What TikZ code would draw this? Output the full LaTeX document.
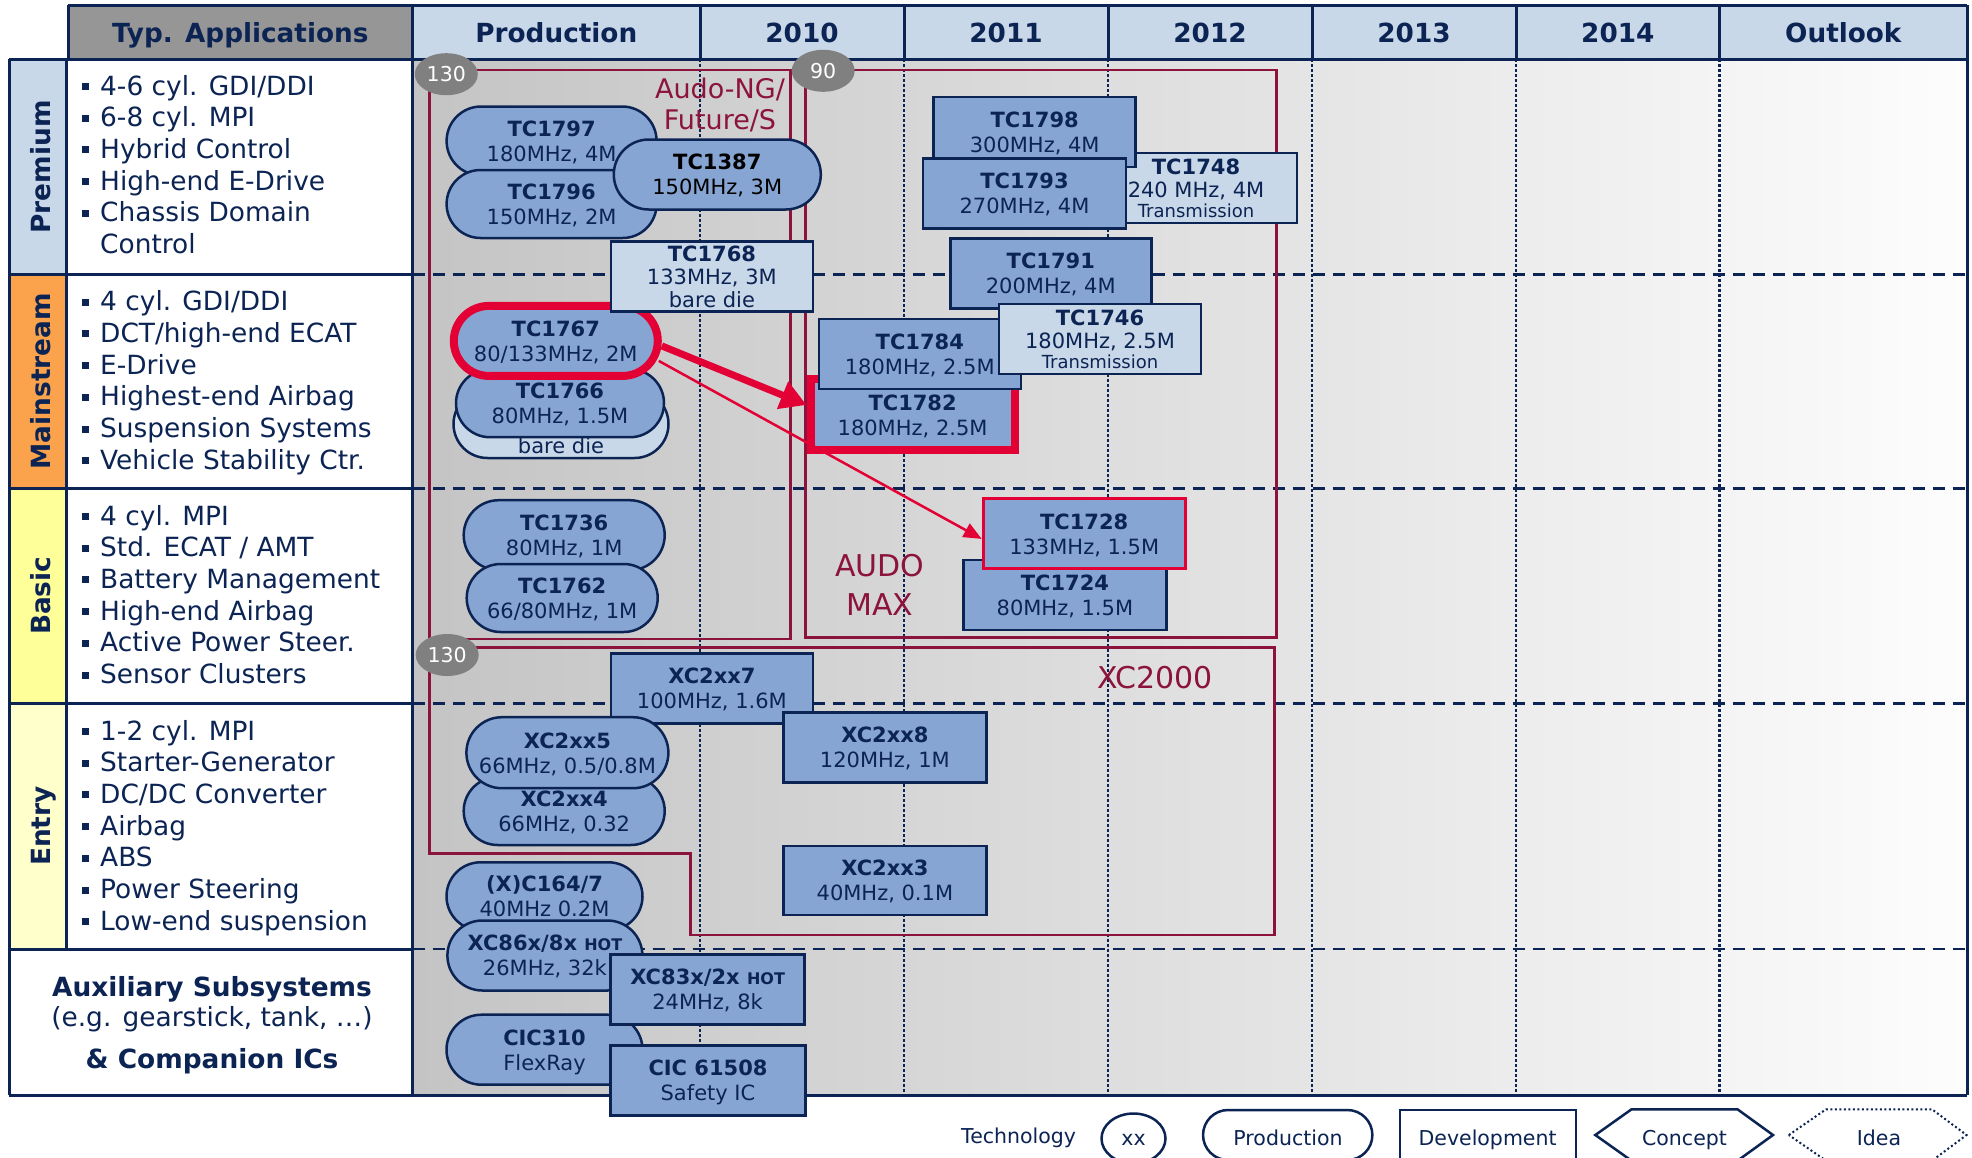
\documentclass[tikz,border=0pt]{standalone}
\usepackage{fontspec}
\setmainfont{DejaVu Sans}
\usetikzlibrary{shapes.misc,shapes.geometric,arrows.meta}
\definecolor{navy}{RGB}{12,36,84}
\definecolor{hdrblue}{RGB}{200,216,232}
\definecolor{chipblue}{RGB}{135,165,211}
\definecolor{appgray}{RGB}{150,150,150}
\definecolor{regred}{RGB}{140,20,60}
\definecolor{hotred}{RGB}{227,0,52}
\definecolor{techgray}{RGB}{128,128,128}
\definecolor{orangeM}{RGB}{251,163,76}
\definecolor{yellowB}{RGB}{255,255,153}
\definecolor{yellowE}{RGB}{255,255,204}
\definecolor{bgleft}{RGB}{196,196,196}
\definecolor{bgright}{RGB}{253,253,253}
\newcommand\chipfont{\fontsize{21}{25}\selectfont}
\newcommand\bodyfont{\fontsize{26.4}{31.7}\selectfont}
\newcommand\hotfont{\fontsize{16}{16}\selectfont}
\begin{document}
\begin{tikzpicture}[x=1pt,y=-1pt,
  gridline/.style={navy, line width=3pt},
  dashrow/.style={navy, line width=2.6pt, dash pattern=on 12pt off 8pt},
  dotcol/.style={navy, line width=2.5pt, dash pattern=on 2.5pt off 2.5pt},
  regbox/.style={draw=regred, line width=2.6pt},
  regtext/.style={text=regred, font=\fontsize{27}{31}\selectfont, inner sep=0pt, anchor=base},
  bigreg/.style={regtext, font=\fontsize{30}{34}\selectfont},
  hdrtext/.style={text=navy, font=\bfseries\fontsize{26.3}{30}\selectfont, inner sep=0pt, anchor=base},
  itm/.style={text=navy, font=\bodyfont, inner sep=0pt, anchor=base west},
  auxtext/.style={text=navy, font=\bodyfont, inner sep=0pt, anchor=base},
  rowlab/.style={text=navy, font=\bfseries\fontsize{26.4}{30}\selectfont, rotate=90, inner sep=0pt, text height=19pt, text depth=0pt},
  sz/.style 2 args={minimum width=#1pt, minimum height=#2pt},
  chip/.style={draw=navy, line width=2.5pt, text=navy, font=\chipfont, align=center, inner sep=0pt, text depth=0pt},
  prod/.style={chip, rounded rectangle, fill=chipblue},
  dev/.style={chip, rectangle, fill=chipblue},
  devl/.style={chip, rectangle, fill=hdrblue},
  tech/.style={ellipse, fill=techgray, text=white, font=\fontsize{20.5}{24}\selectfont, inner sep=0pt, minimum width=63pt, minimum height=42pt},
  legtext/.style={text=navy, font=\fontsize{20.5}{24}\selectfont, inner sep=0pt, anchor=base},
  legshape/.style={draw=navy, line width=2.5pt, fill=white}
]
\useasboundingbox (0,0) rectangle (1972,1157);
\clip (0,0) rectangle (1972,1157);
\fill[white] (0,0) rectangle (1972,1157);

% fills
\shade[left color=bgleft, right color=bgright] (412.6,59.3) rectangle (1967,1095);
\fill[appgray] (68,5) rectangle (412.6,59.3);
\fill[hdrblue] (412.6,5) rectangle (1967,59.3);
\fill[hdrblue] (9.3,59.3) rectangle (66.5,274.3);
\fill[orangeM] (9.3,274.3) rectangle (66.5,488.3);
\fill[yellowB] (9.3,488.3) rectangle (66.5,703.3);
\fill[yellowE] (9.3,703.3) rectangle (66.5,949);

% dotted year lines and dashed row lines
\foreach \xx in {700,904,1108,1312,1516,1719.5}
  \draw[dotcol] (\xx,59.3) -- (\xx,1095);
\foreach \yy in {274.3,488.3,703.3,949}
  \draw[dashrow] (412.6,\yy) -- (1967,\yy);

% solid grid
\draw[gridline] (68,5) -- (1967,5);
\draw[gridline] (9.3,59.3) -- (1967,59.3);
\draw[gridline] (9.3,1095) -- (1967,1095);
\draw[gridline] (68,5) -- (68,59.3);
\draw[gridline] (412.6,5) -- (412.6,1095);
\draw[gridline] (1967,5) -- (1967,1095);
\foreach \xx in {700,904,1108,1312,1516,1719.5}
  \draw[gridline] (\xx,5) -- (\xx,59.3);
\draw[gridline] (9.3,59.3) -- (9.3,1095);
\draw[gridline] (66.5,59.3) -- (66.5,949);
\foreach \yy in {274.3,488.3,703.3,949}
  \draw[gridline] (9.3,\yy) -- (412.6,\yy);

% technology regions
\draw[regbox] (429.5,70) rectangle (790.7,639);
\draw[regbox] (805.5,70) rectangle (1276.6,637.3);
\draw[regbox] (429.5,647.3) -- (1274.7,647.3) -- (1274.7,935) -- (690.5,935) -- (690.5,853.3) -- (429.5,853.3) -- cycle;
\node[regtext] (lblNGa) at (720,98.3) {Audo-NG/};
\node[regtext] (lblNGb) at (720,129.3) {Future/S};
\node[bigreg] (lblMaxa) at (880,576) {AUDO};
\node[bigreg] (lblMaxb) at (880,615) {MAX};
\node[bigreg] (lblXC) at (1155,688.3) {XC2000};

% chips: premium / mainstream / basic (production column)
\node[prod, sz={210}{69}] (TC1797) at (551.6,141) {\textbf{TC1797}\\180MHz, 4M};
\node[prod, sz={210}{68}] (TC1796) at (551.6,204) {\textbf{TC1796}\\150MHz, 2M};
\node[prod, sz={207}{70}, text=black] (TC1387) at (717.3,174.5) {\textbf{TC1387}\\150MHz, 3M};
\node[prod, sz={215}{68}, fill=hdrblue] (bare) at (561,424) {};
\node[legtext, font=\chipfont] (bareT) at (561,453.3) {bare die};
\node[prod, sz={208}{68}] (TC1766) at (560,403.2) {\textbf{TC1766}\\80MHz, 1.5M};
\node[prod, sz={204}{70}, draw=hotred, line width=8pt] (TC1767) at (555.8,340.9) {\textbf{TC1767}\\80/133MHz, 2M};
\node[devl, sz={202}{70}, font=\fontsize{21}{23}\selectfont] (TC1768) at (711.9,276.7) {\textbf{TC1768}\\133MHz, 3M\\bare die};
\node[prod, sz={201}{70}] (TC1736) at (564.2,535.2) {\textbf{TC1736}\\80MHz, 1M};
\node[prod, sz={191}{68}] (TC1762) at (562.2,598) {\textbf{TC1762}\\66/80MHz, 1M};

% chips: development
\node[devl, sz={202}{70}, font=\fontsize{21}{23}\selectfont] (TC1748) at (1196,187.9) {\textbf{TC1748}\\240 MHz, 4M\\[-3pt]{\fontsize{18}{20}\selectfont Transmission}};
\node[dev, sz={202}{70}] (TC1798) at (1034.7,132) {\textbf{TC1798}\\300MHz, 4M};
\node[dev, sz={203}{70}] (TC1793) at (1024.5,193.7) {\textbf{TC1793}\\270MHz, 4M};
\node[dev, sz={201}{70}] (TC1791) at (1050.8,273.3) {\textbf{TC1791}\\200MHz, 4M};
\node[dev, sz={204}{71}, draw=hotred, line width=8pt] (TC1782) at (912.6,414.8) {\textbf{TC1782}\\180MHz, 2.5M};
\node[dev, sz={202}{70}] (TC1784) at (919.8,354.2) {\textbf{TC1784}\\180MHz, 2.5M};
\node[devl, sz={202}{70}, font=\fontsize{21}{23}\selectfont] (TC1746) at (1100,338.9) {\textbf{TC1746}\\180MHz, 2.5M\\[-3pt]{\fontsize{18}{20}\selectfont Transmission}};
\node[dev, sz={203}{70}] (TC1724) at (1064.9,595) {\textbf{TC1724}\\80MHz, 1.5M};
\node[dev, sz={202}{70}, draw=hotred, line width=3pt] (TC1728) at (1084.2,533.9) {\textbf{TC1728}\\133MHz, 1.5M};

% chips: XC2000
\node[dev, sz={202}{70}] (XC7) at (711.9,688.5) {\textbf{XC2xx7}\\100MHz, 1.6M};
\node[dev, sz={203}{70}] (XC8) at (884.9,747.5) {\textbf{XC2xx8}\\120MHz, 1M};
\node[prod, sz={201}{68}] (XC4) at (564.2,811) {\textbf{XC2xx4}\\66MHz, 0.32};
\node[prod, sz={202}{71}] (XC5) at (567.4,752.7) {\textbf{XC2xx5}\\66MHz, 0.5/0.8M};
\node[dev, sz={203}{69}] (XC3) at (884.9,880.5) {\textbf{XC2xx3}\\40MHz, 0.1M};

% chips: auxiliary
\node[prod, sz={196}{68}] (XC164) at (544.5,896.3) {\textbf{(X)C164/7}\\40MHz 0.2M};
\node[prod, sz={195}{70}] (XC86) at (544.9,955.5) {\textbf{XC86x/8x {\hotfont HOT}}\\26MHz, 32k};
\node[prod, sz={196}{70}] (CIC310) at (544.5,1049.7) {\textbf{CIC310}\\FlexRay};
\node[dev, sz={194}{70}] (XC83) at (707.6,989.5) {\textbf{XC83x/2x {\hotfont HOT}}\\24MHz, 8k};
\node[dev, sz={195}{70}] (CIC61508) at (708,1080.4) {\textbf{CIC 61508}\\Safety IC};

% technology nodes
\node[tech] (t130a) at (446.3,74.2) {130};
\node[tech] (t90) at (823.2,70.8) {90};
\node[tech] (t130b) at (447.2,655) {130};

% migration arrows
\draw[hotred, line width=7pt, -{Triangle[length=26pt,width=28pt]}] ([yshift=-5pt]TC1767.east) -- ([yshift=9.8pt]TC1782.west);
\draw[hotred, line width=2.5pt, -{Triangle[length=18pt,width=15pt]}] ([xshift=-3pt,yshift=-20pt]TC1767.east) -- ([yshift=-5pt]TC1728.west);

% header texts
\node[hdrtext] (hTyp) at (240.3,42.7) {Typ. Applications};
\node[hdrtext] (hProd) at (556.3,42.7) {Production};
\node[hdrtext] (h2010) at (802,42.7) {2010};
\node[hdrtext] (h2011) at (1006,42.7) {2011};
\node[hdrtext] (h2012) at (1210,42.7) {2012};
\node[hdrtext] (h2013) at (1414,42.7) {2013};
\node[hdrtext] (h2014) at (1617.8,42.7) {2014};
\node[hdrtext] (hOut) at (1843.3,42.7) {Outlook};

% row labels
\node[rowlab] (labP) at (41,166.8) {Premium};
\node[rowlab] (labM) at (41,381.3) {Mainstream};
\node[rowlab] (labB) at (41,595.8) {Basic};
\node[rowlab] (labE) at (41,826) {Entry};

% application lists
\foreach \t [count=\i from 0] in {4-6 cyl. GDI/DDI, 6-8 cyl. MPI, Hybrid Control, High-end E-Drive, Chassis Domain} {
  \node[itm] (pr\i) at (100,{95+31.7*\i}) {\t};
  \fill[navy] (82,{95+31.7*\i-12}) rectangle ++(7,7);
}
\node[itm] (pr5) at (100,253.5) {Control};
\foreach \t [count=\i from 0] in {4 cyl. GDI/DDI, DCT/high-end ECAT, E-Drive, Highest-end Airbag, Suspension Systems, Vehicle Stability Ctr.} {
  \node[itm] (ms\i) at (100,{310.7+31.7*\i}) {\t};
  \fill[navy] (82,{310.7+31.7*\i-12}) rectangle ++(7,7);
}
\foreach \t [count=\i from 0] in {4 cyl. MPI, Std. ECAT / AMT, Battery Management, High-end Airbag, Active Power Steer., Sensor Clusters} {
  \node[itm] (ba\i) at (100,{525+31.7*\i}) {\t};
  \fill[navy] (82,{525+31.7*\i-12}) rectangle ++(7,7);
}
\foreach \t [count=\i from 0] in {1-2 cyl. MPI, Starter-Generator, DC/DC Converter, Airbag, ABS, Power Steering, Low-end suspension} {
  \node[itm] (en\i) at (100,{740+31.7*\i}) {\t};
  \fill[navy] (82,{740+31.7*\i-12}) rectangle ++(7,7);
}
\node[auxtext, font=\bfseries\bodyfont] (aux1) at (212,996.7) {Auxiliary Subsystems};
\node[auxtext] (aux2) at (212,1026.7) {(e.g. gearstick, tank, …)};
\node[auxtext, font=\bfseries\bodyfont] (aux3) at (212,1068.3) {\& Companion ICs};

% legend
\node[legtext] (legTech) at (1018.6,1143.3) {Technology};
\node[legshape, ellipse, sz={64}{50}, inner sep=0pt] (legXX) at (1133.5,1138.5) {};
\node[legtext] (legXXt) at (1133.5,1145) {xx};
\node[legshape, rounded rectangle, sz={176}{50}] (legProd) at (1287.7,1135) {};
\node[legtext] (legProdT) at (1288,1145) {Production};
\node[legshape, rectangle, sz={176}{50}] (legDev) at (1487.9,1135) {};
\node[legtext] (legDevT) at (1487.6,1145) {Development};
\draw[legshape] (1595.3,1135) -- (1631.5,1109.3) -- (1737.5,1109.3) -- (1773,1135) -- (1737.5,1160.7) -- (1631.5,1160.7) -- cycle;
\node[legtext] (legConT) at (1684.5,1145) {Concept};
\draw[navy, line width=2pt, dash pattern=on 2pt off 2.5pt] (1788.8,1135) -- (1826,1109.3) -- (1932,1109.3) -- (1966.5,1135) -- (1932,1160.7) -- (1826,1160.7) -- cycle;
\node[legtext] (legIdeaT) at (1879,1145) {Idea};
\end{tikzpicture}
\end{document}
